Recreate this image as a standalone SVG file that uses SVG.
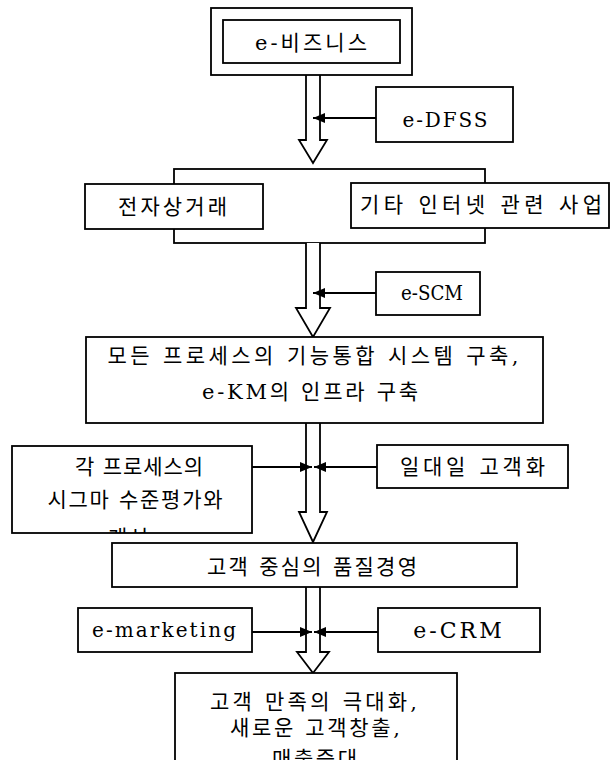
<svg xmlns="http://www.w3.org/2000/svg" width="611" height="760" viewBox="0 0 611 760">
<style>
.box{fill:#fff;stroke:#000;stroke-width:1.8}
.frame{fill:none;stroke:#000;stroke-width:1.8}
.ln{fill:none;stroke:#000;stroke-width:1.8}
.blk{fill:#fff;stroke:#000;stroke-width:1.8;stroke-linejoin:miter}
text{font-family:"DejaVu Serif","Noto Sans CJK KR",serif;font-size:21px;fill:#000;text-anchor:middle}
.lat{font-size:20px}
</style>
<defs>
<marker id="ah" viewBox="0 0 12 10" refX="12" refY="5" markerWidth="12" markerHeight="10" markerUnits="userSpaceOnUse" orient="auto">
<path d="M0,0 L12,5 L0,10 Z" fill="#000"/>
</marker>
<clipPath id="clipL"><rect x="12" y="446" width="240" height="87"/></clipPath>
<clipPath id="clipF"><rect x="175" y="673" width="282" height="87"/></clipPath>
</defs>

<g id="connectors">
<rect class="frame" x="174" y="169" width="311" height="74"/>
<path class="blk" d="M306,75 V140 H299 L313,163 L327,140 H320 V75"/>
<path class="blk" d="M306,243 V308 H296 L313,337 L330,308 H320 V243"/>
<path class="blk" d="M306,423 V512 H299 L313,542 L327,512 H320 V423"/>
<path class="blk" d="M306,587 V652 H297 L313,673 L329,652 H320 V587"/>
<line class="ln" x1="376" y1="118" x2="313" y2="118" marker-end="url(#ah)"/>
<line class="ln" x1="376" y1="293" x2="313" y2="293" marker-end="url(#ah)"/>
<line class="ln" x1="252" y1="467" x2="312" y2="467" marker-end="url(#ah)"/>
<line class="ln" x1="377" y1="467" x2="314" y2="467" marker-end="url(#ah)"/>
<line class="ln" x1="252" y1="632" x2="312" y2="632" marker-end="url(#ah)"/>
<line class="ln" x1="378" y1="632" x2="314" y2="632" marker-end="url(#ah)"/>
</g>

<g id="n-ebiz">
<rect class="box" x="211" y="8" width="201" height="67"/>
<rect class="box" x="223" y="20" width="177" height="43"/>
<text x="311" y="50" textLength="112" lengthAdjust="spacing">e-비즈니스</text>
</g>
<g id="n-edfss">
<rect class="box" x="376" y="87" width="137" height="55"/>
<text class="lat" x="445" y="127" textLength="85" lengthAdjust="spacing">e-DFSS</text>
</g>
<g id="n-ecommerce">
<rect class="box" x="85" y="184" width="178" height="45"/>
<text x="172.5" y="214" textLength="109" lengthAdjust="spacing">전자상거래</text>
</g>
<g id="n-internet">
<rect class="box" x="351" y="183" width="258" height="45"/>
<text x="481" y="212" textLength="242" lengthAdjust="spacing">기타 인터넷 관련 사업</text>
</g>
<g id="n-escm">
<rect class="box" x="376" y="272" width="104" height="43"/>
<text class="lat" x="432" y="300" textLength="62" lengthAdjust="spacingAndGlyphs">e-SCM</text>
</g>
<g id="n-system">
<rect class="box" x="86" y="337" width="457" height="86"/>
<text x="313" y="363" textLength="411" lengthAdjust="spacing">모든 프로세스의 기능통합 시스템 구축,</text>
<text x="310" y="399" textLength="216" lengthAdjust="spacing">e-KM의 인프라 구축</text>
</g>
<g id="n-sigma">
<rect class="box" x="12" y="446" width="240" height="87"/>
<g clip-path="url(#clipL)">
<text x="139" y="474" textLength="128" lengthAdjust="spacing">각 프로세스의</text>
<text x="135" y="507" textLength="175" lengthAdjust="spacing">시그마 수준평가와</text>
<text x="128" y="545" textLength="40" lengthAdjust="spacing">개선</text>
</g>
</g>
<g id="n-onetoone">
<rect class="box" x="377" y="445" width="191" height="43"/>
<text x="472.5" y="474" textLength="145" lengthAdjust="spacing">일대일 고객화</text>
</g>
<g id="n-quality">
<rect class="box" x="112" y="543" width="405" height="44"/>
<text x="312" y="574" textLength="210" lengthAdjust="spacing">고객 중심의 품질경영</text>
</g>
<g id="n-emarketing">
<rect class="box" x="78" y="608" width="174" height="44"/>
<text class="lat" x="164" y="637" textLength="144" lengthAdjust="spacing">e-marketing</text>
</g>
<g id="n-ecrm">
<rect class="box" x="378" y="608" width="162" height="44"/>
<text x="459" y="638" style="font-size:22px;letter-spacing:3px">e-CRM</text>
</g>
<g id="n-satisfaction">
<rect class="box" x="175" y="673" width="282" height="100"/>
<g clip-path="url(#clipF)">
<text x="313.5" y="709" textLength="207" lengthAdjust="spacing">고객 만족의 극대화,</text>
<text x="315" y="735" textLength="170" lengthAdjust="spacing">새로운 고객창출,</text>
<text x="314.5" y="766" textLength="85" lengthAdjust="spacing">매출증대</text>
</g>
</g>
</svg>
